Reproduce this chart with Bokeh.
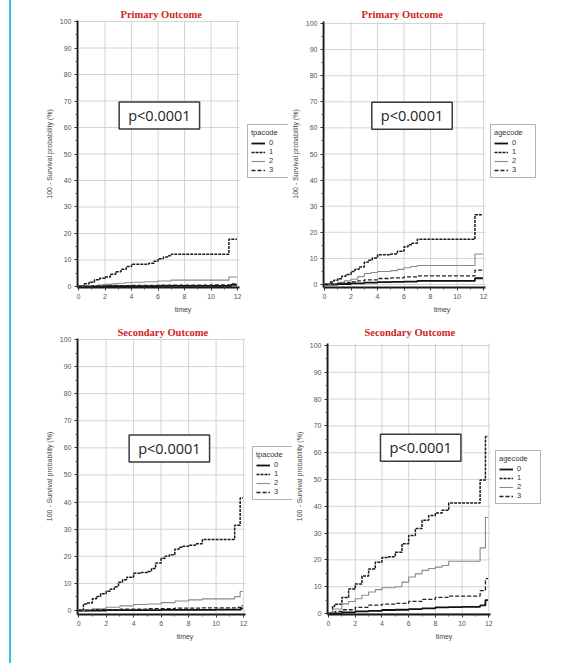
from bokeh.plotting import figure
from bokeh.models import Label, Legend, FixedTicker, Range1d
from bokeh.layouts import row, column
from bokeh.embed import file_html
from bokeh.resources import INLINE

# ---------------- data ----------------
group_labels = ["0", "1", "2", "3"]

# Panel A: Primary Outcome by tpacode
a_t0 = [0, 2, 6, 11.5, 11.95]
a_y0 = [0, 0.1, 0.2, 0.6, 0.6]
a_t1 = [0, 0.4, 0.8, 1.2, 1.6, 2.0, 2.4, 2.8, 3.2, 3.6, 4.0, 5.3, 5.7, 6.0, 6.4, 6.8, 7.0, 11.35, 11.95]
a_y1 = [0, 1.0, 1.6, 2.5, 3.1, 3.6, 4.6, 5.6, 6.5, 7.5, 8.4, 8.8, 9.5, 10.5, 11.1, 11.6, 12.2, 17.8, 17.8]
a_t2 = [0, 0.5, 1, 1.5, 2, 2.5, 3, 3.5, 4, 5, 6, 7, 11.35, 11.95]
a_y2 = [0, 0.2, 0.4, 0.6, 0.8, 1.0, 1.2, 1.4, 1.6, 1.8, 2.1, 2.4, 3.6, 3.6]
a_t3 = [0, 1, 2, 4, 6, 8, 10, 11.6, 11.95]
a_y3 = [0, 0.2, 0.3, 0.4, 0.5, 0.5, 0.6, 1.0, 1.0]

# Panel B: Primary Outcome by agecode
b_t0 = [0, 1, 2, 3, 4, 5, 6, 7, 11.35, 11.95]
b_y0 = [0, 0.2, 0.4, 0.7, 0.9, 1.0, 1.1, 1.4, 2.4, 2.4]
b_t1 = [0, 0.4, 0.7, 1, 1.3, 1.6, 2, 2.3, 2.6, 3, 3.3, 3.6, 4, 5, 5.5, 6, 6.3, 6.6, 7, 11.35, 11.95]
b_y1 = [0, 1, 1.6, 2.2, 3.2, 3.8, 5, 5.8, 6.7, 8.5, 9.3, 10.2, 11.4, 11.7, 12.7, 14.5, 15.2, 15.8, 17.3, 26.7, 26.7]
b_t2 = [0, 0.5, 1, 1.5, 2, 2.5, 3, 3.5, 4, 5, 5.5, 6, 6.5, 7, 11.35, 11.95]
b_y2 = [0, 0.3, 0.8, 1.4, 2.0, 3.0, 4.2, 4.6, 5.0, 5.3, 5.8, 6.4, 6.9, 7.3, 11.7, 11.7]
b_t3 = [0, 0.5, 1, 1.5, 2, 2.5, 3, 4, 5, 6, 7, 11.35, 11.95]
b_y3 = [0, 0.2, 0.4, 0.7, 1.0, 1.4, 1.8, 2.3, 2.5, 2.9, 3.3, 5.5, 5.5]

# Panel C: Secondary Outcome by tpacode
c_t0 = [0, 2, 6, 10, 11.8, 11.95]
c_y0 = [0, 0.1, 0.2, 0.3, 0.8, 0.8]
c_t1 = [0, 0.35, 0.6, 1, 1.3, 1.6, 2, 2.3, 2.6, 2.9, 3.2, 3.5, 4, 4.5, 5, 5.3, 5.6, 6, 6.3, 6.6,
        7, 7.3, 7.6, 8, 8.5, 9, 11.35, 11.75, 11.95]
c_y1 = [0, 2.4, 2.8, 4.3, 5.2, 6.2, 7.1, 7.8, 8.8, 10.4, 11.3, 12.3, 13.7, 14.0, 14.4, 15.5, 17.5, 19.3, 20.0, 20.6,
        22.6, 23.3, 23.7, 24.1, 24.6, 26.2, 31.5, 41.5, 41.5]
c_t2 = [0, 0.5, 1, 2, 3, 4, 5, 6, 7, 8, 9, 11.35, 11.75, 11.95]
c_y2 = [0, 0.3, 0.6, 1.2, 1.7, 2.2, 2.4, 2.9, 3.5, 3.9, 4.3, 5.1, 7.0, 7.0]
c_t3 = [0, 1, 3, 5, 7, 9, 11.5, 11.85, 11.95]
c_y3 = [0, 0.3, 0.5, 0.7, 0.9, 1.0, 1.1, 1.8, 1.8]

# Panel D: Secondary Outcome by agecode
d_t0 = [0, 1, 2, 3, 4, 5, 6, 7, 8, 9, 10, 11.35, 11.75, 11.95]
d_y0 = [0, 0.4, 0.8, 1.0, 1.3, 1.4, 1.6, 1.9, 2.3, 2.4, 2.5, 3.0, 5.0, 5.0]
d_t1 = [0, 0.3, 0.45, 1, 1.5, 2, 2.5, 3, 3.5, 4, 4.5, 5, 5.5, 6, 6.5, 7, 7.5, 8, 8.5, 9, 11.35, 11.75, 11.95]
d_y1 = [0, 2.6, 3.5, 6, 9.1, 11, 14, 16.6, 19.1, 20.9, 21.2, 22.9, 26, 29.1, 31.7, 34.8, 36.6, 37.5, 38.5, 41.2, 49.8, 66, 66]
d_t2 = [0, 0.3, 1, 1.5, 2, 2.5, 3, 3.5, 4, 5, 5.5, 6, 6.5, 7, 7.5, 8, 8.5, 9, 11.35, 11.75, 11.95]
d_y2 = [0, 1.7, 3.6, 4.5, 5.5, 6.8, 8, 8.9, 9.6, 10, 11.7, 13.6, 14.8, 16.1, 16.8, 17.3, 17.9, 19.5, 24.5, 35.8, 35.8]
d_t3 = [0, 0.5, 1, 2, 3, 4, 5, 6, 7, 8, 9, 11.35, 11.75, 11.95]
d_y3 = [0, 0.8, 1.4, 2.3, 3.1, 3.5, 3.8, 4.5, 5.3, 6, 6.5, 8.5, 13, 13]

x_ticks = [0, 2, 4, 6, 8, 10, 12]
y_ticks = [0, 10, 20, 30, 40, 50, 60, 70, 80, 90, 100]
p_text = "p<0.0001"

X_LO, X_HI = -0.08, 12.15   # extent of the plotting area (time axis)
Y_TOP = 100.8               # top of the plotting area (probability axis)

STYLES = [
    dict(line_color="#111111", line_width=1.8, line_dash="solid"),
    dict(line_color="#1a1a1a", line_width=1.5, line_dash="3 1"),
    dict(line_color="#8a8a8a", line_width=1.1, line_dash="solid"),
    dict(line_color="#222222", line_width=1.3, line_dash="4 2"),
]

TICK_FONT = "Liberation Sans"
GRID_COLOR = "#d4d4d4"


def panel(title, title_off, legend_title, series, width, height, mbl, mbt, mbb,
          px_per_unit, y_lo, y_hi, p_xy, leg_xy):
    frame_w = width - mbl
    x_end = X_LO + frame_w / px_per_unit
    y_top = min(y_hi, Y_TOP)
    p = figure(width=width, height=height, output_backend="svg", toolbar_location=None,
               x_range=Range1d(X_LO, x_end), y_range=Range1d(y_lo, y_hi),
               min_border_left=mbl, min_border_right=0,
               min_border_top=mbt, min_border_bottom=mbb)
    p.outline_line_color = None
    p.background_fill_color = "white"
    p.border_fill_color = "white"

    p.title.text = title
    p.title.align = "left"
    p.title.offset = title_off
    p.title.text_font = "Liberation Serif"
    p.title.text_font_style = "bold"
    p.title.text_font_size = "10.5px"
    p.title.text_color = "#d02424"
    p.title.standoff = 2

    for ax in (p.xaxis[0], p.yaxis[0]):
        ax.axis_line_color = "#1a1a1a"
        ax.axis_line_width = 1.8
        ax.major_tick_line_color = "#333333"
        ax.minor_tick_line_color = "#555555"
        ax.major_tick_out = 3
        ax.major_tick_in = 0
        ax.minor_tick_out = 2
        ax.minor_tick_in = 0
        ax.major_label_text_font = TICK_FONT
        ax.major_label_text_font_size = "7px"
        ax.major_label_text_color = "#555555"
        ax.major_label_standoff = 3
        ax.axis_label_text_font = TICK_FONT
        ax.axis_label_text_font_size = "7px"
        ax.axis_label_text_font_style = "normal"
        ax.axis_label_text_color = "#444444"
        ax.axis_label_standoff = 4
    p.xaxis[0].ticker = FixedTicker(ticks=x_ticks, minor_ticks=[1, 3, 5, 7, 9, 11])
    p.xaxis[0].bounds = (X_LO, X_HI)
    p.yaxis[0].ticker = FixedTicker(ticks=y_ticks,
                                     minor_ticks=[5, 15, 25, 35, 45, 55, 65, 75, 85, 95])
    p.yaxis[0].bounds = (y_lo, y_top)
    p.xaxis[0].axis_label = "timey"
    p.yaxis[0].axis_label = "100 - Survival probability (%)"

    # grid lines limited to the plotting area (legend sits to its right)
    p.xgrid.visible = False
    p.ygrid.visible = False
    p.segment(x0=[X_LO] * len(y_ticks), x1=[X_HI] * len(y_ticks), y0=y_ticks, y1=y_ticks,
              line_color=GRID_COLOR, line_width=1)
    p.segment(x0=x_ticks, x1=x_ticks, y0=[y_lo] * len(x_ticks), y1=[y_top] * len(x_ticks),
              line_color=GRID_COLOR, line_width=1)

    items = []
    for lab, (t, y), st in zip(group_labels, series, STYLES):
        r = p.step(x=t, y=y, mode="after", **st)
        items.append((lab, [r]))

    leg = Legend(items=items, location=leg_xy, title=legend_title)
    leg.title_text_font = TICK_FONT
    leg.title_text_font_size = "7.5px"
    leg.title_text_font_style = "normal"
    leg.title_text_color = "#333333"
    leg.title_standoff = 1
    leg.label_text_font = TICK_FONT
    leg.label_text_font_size = "7.5px"
    leg.label_text_color = "#333333"
    leg.label_height = 8
    leg.glyph_height = 8
    leg.glyph_width = 14
    leg.label_standoff = 4
    leg.spacing = 0
    leg.padding = 3
    leg.margin = 0
    leg.border_line_color = "#666666"
    leg.border_line_width = 1.2
    leg.background_fill_alpha = 1
    p.add_layout(leg, "center")

    lbl = Label(x=p_xy[0], y=p_xy[1], text=p_text, text_align="center",
                text_baseline="middle", text_font="Open Sans", text_font_size="14.5px",
                text_color="#222222", border_line_color="#3a3a3a", border_line_width=1.5,
                background_fill_color="white", padding=(9, 4))
    p.add_layout(lbl)
    return p


pA = panel("Primary Outcome", 43, "tpacode",
           [(a_t0, a_y0), (a_t1, a_y1), (a_t2, a_y2), (a_t3, a_y3)],
           width=277, height=318, mbl=66, mbt=20, mbb=31, px_per_unit=13.25,
           y_lo=-0.38, y_hi=100.38, p_xy=(6.1, 64.5), leg_xy=(170, 109))
pB = panel("Primary Outcome", 38, "agecode",
           [(b_t0, b_y0), (b_t1, b_y1), (b_t2, b_y2), (b_t3, b_y3)],
           width=272, height=318, mbl=35, mbt=20, mbb=31, px_per_unit=13.25,
           y_lo=-1.15, y_hi=101.15, p_xy=(6.6, 64.7), leg_xy=(167, 109))
pC = panel("Secondary Outcome", 40, "tpacode",
           [(c_t0, c_y0), (c_t1, c_y1), (c_t2, c_y2), (c_t3, c_y3)],
           width=281, height=345, mbl=66, mbt=20, mbb=49, px_per_unit=13.75,
           y_lo=-1.48, y_hi=100.37, p_xy=(6.6, 59.8), leg_xy=(175, 114))
pD = panel("Secondary Outcome", 37, "agecode",
           [(d_t0, d_y0), (d_t1, d_y1), (d_t2, d_y2), (d_t3, d_y3)],
           width=268, height=345, mbl=31, mbt=20, mbb=49, px_per_unit=13.58,
           y_lo=-0.37, y_hi=102.6, p_xy=(6.9, 61.8), leg_xy=(168, 110))

layout = column(row(pA, pB), row(pC, pD),
                styles={"border-left": "2px solid #2ec4e0", "margin-left": "9px"})

open("out.html", "w").write(file_html(layout, INLINE))
